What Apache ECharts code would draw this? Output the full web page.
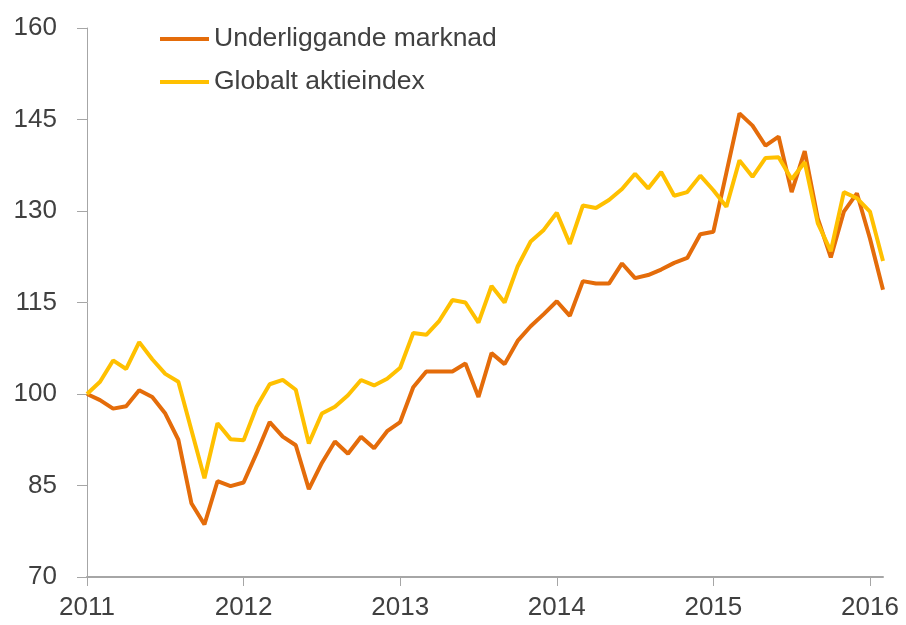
<!DOCTYPE html>
<html>
<head>
<meta charset="utf-8">
<script src="https://cdn.jsdelivr.net/npm/echarts@6/dist/echarts.min.js"></script>
<style>
  html, body { margin: 0; padding: 0; background: #fff; }
  #main { width: 906px; height: 625px; }
</style>
</head>
<body>
<div id="main"></div>
<script>
var years = ['2011', '2012', '2013', '2014', '2015', '2016'];
var monthsInLastYear = 2;

// månadsvärden, jan 2011 - feb 2016
var underliggande = [
	100.0, 99.0, 97.6, 98.0, 100.6, 99.5, 96.8, 92.5, 82.1, 78.6, 85.7, 84.9,
	85.5, 90.3, 95.4, 93.0, 91.6, 84.4, 88.7, 92.2, 90.2, 93.0, 91.1, 93.9,
	95.4, 101.1, 103.7, 103.7, 103.7, 105.0, 99.5, 106.7, 104.9, 108.7, 111.1, 113.1,
	115.2, 112.8, 118.5, 118.1, 118.1, 121.4, 119.0, 119.5, 120.4, 121.5, 122.3, 126.2,
	126.6, 136.3, 146.0, 144.0, 140.7, 142.2, 133.1, 139.8, 128.8, 122.4, 129.9, 132.9,
	125.5, 117.1
];
var globalt = [
	100.0, 102.0, 105.5, 104.1, 108.5, 105.7, 103.3, 102.0, 94.1, 86.2, 95.2, 92.6,
	92.4, 97.9, 101.6, 102.3, 100.7, 91.9, 96.8, 97.9, 99.8, 102.3, 101.4, 102.5,
	104.3, 110.0, 109.7, 112.0, 115.4, 115.0, 111.7, 117.7, 115.0, 120.9, 125.0, 126.9,
	129.7, 124.6, 130.9, 130.5, 131.8, 133.6, 136.1, 133.7, 136.4, 132.5, 133.1, 135.8,
	133.4, 130.7, 138.3, 135.6, 138.7, 138.8, 135.2, 138.0, 128.0, 123.4, 133.1, 132.1,
	129.9, 121.8
];

var months = [];
years.forEach(function (y, k) {
	var n = k === years.length - 1 ? monthsInLastYear : 12;
	for (var m = 1; m <= n; m++) {
		months.push(y + '-' + (m < 10 ? '0' + m : m));
	}
});

var fontFamily = '"Liberation Sans", Arial, sans-serif';
var axisColor = '#A6A6A6';
var textColor = '#404040';

var chartDom = document.getElementById('main');
var myChart = echarts.init(chartDom);
var option;
option = {
	animation: false,
	textStyle: { fontFamily: fontFamily },
	legend: {
		orient: 'vertical',
		left: 160,
		top: 24,
		padding: 0,
		icon: 'rect',
		itemWidth: 49,
		itemHeight: 4,
		itemGap: 13,
		textStyle: {
			fontFamily: fontFamily,
			fontSize: 26.5,
			lineHeight: 30,
			color: textColor
		},
		data: ['Underliggande marknad', 'Globalt aktieindex']
	},
	grid: {
		left: 87,
		right: 23,
		top: 28,
		bottom: 48
	},
	xAxis: {
		type: 'category',
		boundaryGap: false,
		data: months,
		axisLine: { lineStyle: { color: axisColor, width: 2 } },
		axisTick: {
			length: 9,
			lineStyle: { color: axisColor, width: 1 },
			interval: function (i) { return i % 12 === 0; }
		},
		axisLabel: {
			interval: function (i) { return i % 12 === 0; },
			formatter: function (v) { return v.slice(0, 4); },
			fontSize: 26,
			color: textColor,
			margin: 18
		},
		splitLine: { show: false }
	},
	yAxis: {
		type: 'value',
		min: 70,
		max: 160,
		interval: 15,
		axisLine: { show: true, lineStyle: { color: axisColor, width: 1 } },
		axisTick: { show: true, length: 10, lineStyle: { color: axisColor } },
		axisLabel: { fontSize: 26, color: textColor, margin: 30 },
		splitLine: { show: false }
	},
	series: [{
			name: 'Underliggande marknad',
			type: 'line',
			symbol: 'none',
			itemStyle: { color: '#E46C0A' },
			lineStyle: { width: 4, color: '#E46C0A' },
			data: underliggande
		},
		{
			name: 'Globalt aktieindex',
			type: 'line',
			symbol: 'none',
			itemStyle: { color: '#FFC000' },
			lineStyle: { width: 4, color: '#FFC000' },
			data: globalt
		}
	]
};
option && myChart.setOption(option);
</script>
</body>
</html>
